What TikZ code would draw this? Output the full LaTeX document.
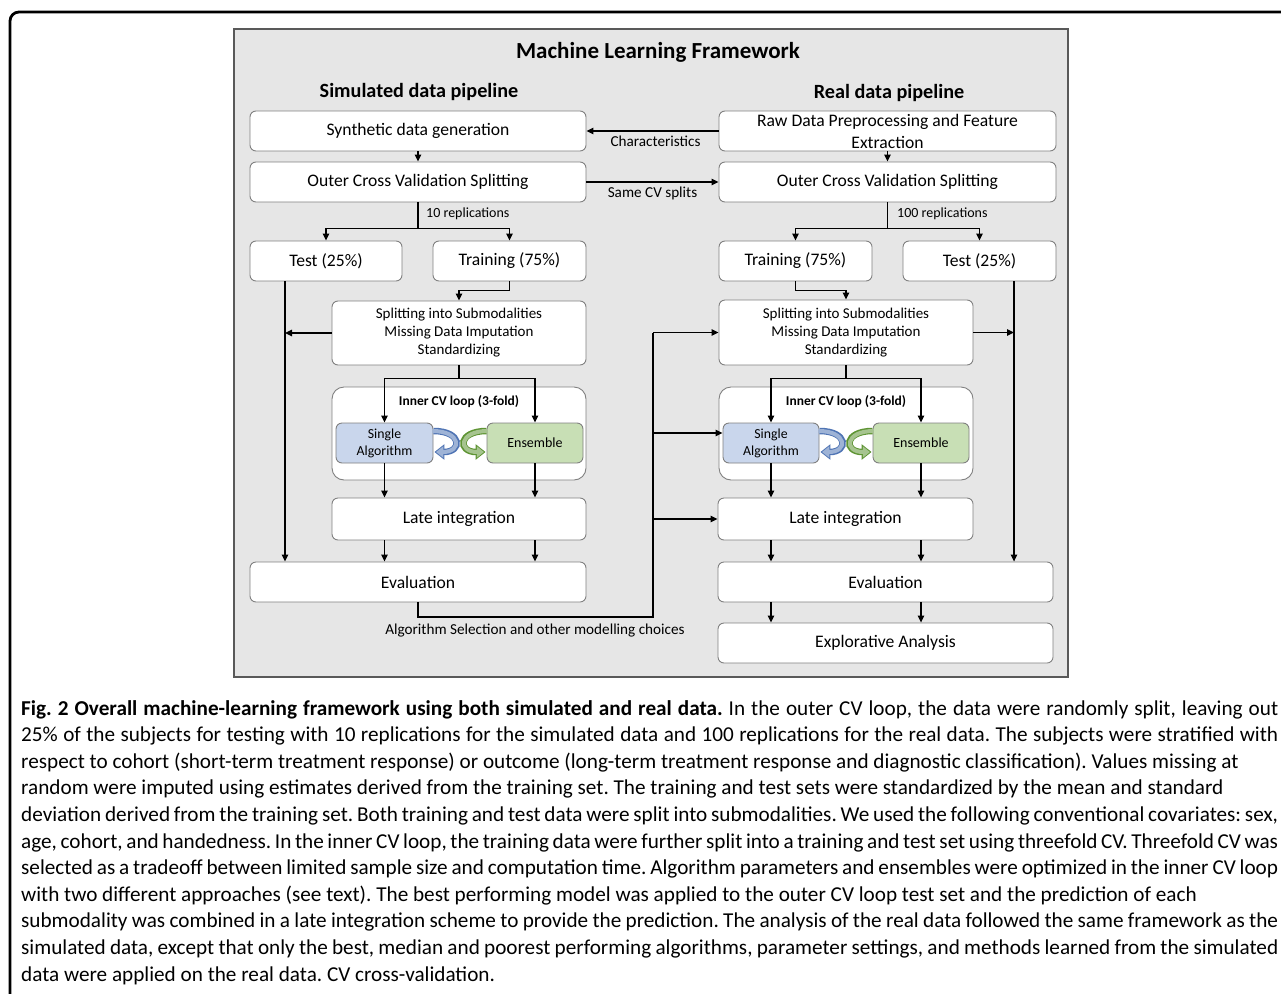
\documentclass[tikz,border=0pt]{standalone}
\usepackage{fontspec}
\setmainfont{Carlito}
\usetikzlibrary{arrows.meta,calc}
\frenchspacing
\definecolor{panel}{HTML}{E6E6E6}
\definecolor{panelline}{HTML}{595959}
\definecolor{boxline}{HTML}{808080}
\definecolor{sabg}{HTML}{C9D6EC}
\definecolor{ensbg}{HTML}{C8DFB5}
\definecolor{loopblue}{HTML}{7A9BD3}
\definecolor{loopbluedk}{HTML}{4F74B4}
\definecolor{loopgreen}{HTML}{86B957}
\definecolor{loopgreendk}{HTML}{5E9433}
\tikzset{
  box/.style={draw=boxline, fill=white, rounded corners=6pt, line width=0.9pt, inner sep=0pt, align=center, font=\fontsize{17.6}{21}\selectfont},
  smallbox/.style={font=\fontsize{15}{18}\selectfont},
  ln/.style={line width=1.3pt, black},
  arr/.style={ln, -{Triangle[length=7pt,width=6.5pt]}},
  lbl/.style={font=\fontsize{15.2}{17}\selectfont, inner sep=0pt},
  replbl/.style={font=\fontsize{14}{16}\selectfont, inner sep=0pt},
  loopout/.style={line width=6.5pt, draw=#1, -{Triangle[length=10pt,width=15pt]}},
  loopin/.style={line width=4pt, draw=#1, shorten >=1.6pt, -{Triangle[length=7.2pt,width=11pt]}},
  capfnt/.style={anchor=base west, inner sep=0pt, font=\fontsize{21.2}{25}\selectfont},
}
\newcommand\bx[7][]{\node[box,#1,minimum width={(#5-#3)*1pt},minimum height={(#6-#4)*1pt}] (#2) at ({(#3+#5)/2},{(#4+#6)/2}) {#7};}
\newcommand\capj[3]{\node[capfnt] (cap#1) at (21,{715+26.6*(#1-1)}) {\hbox to #2pt{#3}};}
\newcommand\capn[2]{\node[capfnt] (cap#1) at (21,{715+26.6*(#1-1)}) {#2};}
\newcommand\ribbonR[2]{%
  \draw[loopout=#2] ([yshift=12pt]#1.east) .. controls +(29,0) and +(28,0) .. ([yshift=-9pt,xshift=1pt]#1.east);
  \draw[loopin=#2!55!white] ([yshift=12pt,xshift=-1pt]#1.east) .. controls +(29,0) and +(28,0) .. ([yshift=-9pt,xshift=1pt]#1.east);}
\newcommand\ribbonL[2]{%
  \draw[loopout=#2] ([yshift=12pt]#1.west) .. controls +(-29,0) and +(-28,0) .. ([yshift=-9pt,xshift=-1pt]#1.west);
  \draw[loopin=#2!55!white] ([yshift=12pt,xshift=1pt]#1.west) .. controls +(-29,0) and +(-28,0) .. ([yshift=-9pt,xshift=-1pt]#1.west);}
\begin{document}
\begin{tikzpicture}[x=1pt,y=-1pt]
\useasboundingbox (0,0) rectangle (1281,993);
\fill[white] (0,0) rectangle (1281,993);
% outer frame
\draw[line width=2.8pt, rounded corners=9pt] (1290,12) -- (10,12) -- (10,1000);
% panel
\draw[draw=panelline, fill=panel, line width=1.3pt] (234,29) rectangle (1068,677);
\node[font=\bfseries\fontsize{23}{27}\selectfont] (title) at (658,52) {Machine Learning Framework};
\node[font=\bfseries\fontsize{20.2}{24}\selectfont] (simt) at (419,92) {Simulated data pipeline};
\node[font=\bfseries\fontsize{20.2}{24}\selectfont] (realt) at (889,93) {Real data pipeline};
% left column
\bx{synL}{250}{111}{586}{151}{Synthetic data generation}
\bx{ocvL}{250}{162}{586}{202}{Outer Cross Validation Splitting}
\bx{testL}{250}{241}{402}{281}{Test (25\%)}
\bx{trainL}{433}{241}{586}{281}{Training (75\%)}
\bx[smallbox]{splitL}{332}{301}{586}{365}{Splitting into Submodalities\\Missing Data Imputation\\Standardizing}
\bx[rounded corners=12pt]{innerL}{332}{387}{586}{480}{}
\node[font=\bfseries\fontsize{13.5}{16}\selectfont] (innerLt) at (459,402) {Inner CV loop (3-fold)};
\bx[fill=sabg, font=\fontsize{13.8}{17}\selectfont]{singleL}{336}{423}{433}{463}{Single\\Algorithm}
\bx[fill=ensbg, font=\fontsize{14}{17}\selectfont]{ensL}{487}{423}{583}{463}{Ensemble}
\bx{lateL}{332}{498}{586}{540}{Late integration}
\bx{evalL}{250}{562}{586}{602}{Evaluation}
% right column
\bx[font=\fontsize{17.6}{22}\selectfont]{rawR}{719}{111}{1056}{151}{Raw Data Preprocessing and Feature\\Extraction}
\bx{ocvR}{719}{162}{1056}{202}{Outer Cross Validation Splitting}
\bx{trainR}{719}{241}{872}{281}{Training (75\%)}
\bx{testR}{903}{241}{1056}{281}{Test (25\%)}
\bx[smallbox]{splitR}{719}{300}{973}{365}{Splitting into Submodalities\\Missing Data Imputation\\Standardizing}
\bx[rounded corners=12pt]{innerR}{719}{387}{973}{480}{}
\node[font=\bfseries\fontsize{13.5}{16}\selectfont] (innerRt) at (846,402) {Inner CV loop (3-fold)};
\bx[fill=sabg, font=\fontsize{13.8}{17}\selectfont]{singleR}{723}{423}{819}{463}{Single\\Algorithm}
\bx[fill=ensbg, font=\fontsize{14}{17}\selectfont]{ensR}{873}{423}{969}{463}{Ensemble}
\bx{lateR}{718}{498}{973}{540}{Late integration}
\bx{evalR}{718}{562}{1053}{602}{Evaluation}
\bx{explR}{718}{623}{1053}{663}{Explorative Analysis}
% helper coordinates
\coordinate (xL) at (285,0);
\coordinate (xR) at (1014,0);
\coordinate (fb) at (653,617);
\coordinate (sRin) at ([yshift=10pt]singleR.west);
% left connectors
\draw[arr] (synL.south) -- (ocvL.north);
\draw[arr] (ocvL.south) -- ++(0,26) -| (testL.north);
\draw[arr] (ocvL.south) -- ++(0,26) -| (trainL.north);
\node[replbl, anchor=west] (rep10) at (426,214) {10 replications};
\draw[arr] (trainL.south) -- ++(0,9) -| (splitL.north);
\draw[arr] (xL |- testL.south) -- (xL |- evalL.north);
\draw[arr] (splitL.west) -- (xL |- splitL.west);
\draw[arr] (splitL.south) -- ++(0,13) -| (singleL.north);
\draw[arr] (splitL.south) -- ++(0,13) -| (ensL.north);
\draw[arr] (singleL.south) -- (singleL.south |- lateL.north);
\draw[arr] (ensL.south) -- (ensL.south |- lateL.north);
\draw[arr] (lateL.south -| singleL.south) -- (evalL.north -| singleL.south);
\draw[arr] (lateL.south -| ensL.south) -- (evalL.north -| ensL.south);
% cross connectors
\draw[arr] (rawR.west) -- (synL.east) node[lbl, midway, below=4pt, xshift=3pt] (charl) {Characteristics};
\draw[arr] (ocvL.east) -- (ocvR.west) node[lbl, midway, below=4pt] (samel) {Same CV splits};
\draw[ln] (evalL.south) |- (fb) -- (fb |- splitR.west);
\draw[arr] (fb |- splitR.west) -- (splitR.west);
\draw[arr] (fb |- sRin) -- (sRin);
\draw[arr] (fb |- lateR.west) -- (lateR.west);
\node[lbl] (algsel) at (535,631) {Algorithm Selection and other modelling choices};
% right connectors
\draw[arr] (rawR.south) -- (ocvR.north);
\draw[arr] (ocvR.south) -- ++(0,26) -| (trainR.north);
\draw[arr] (ocvR.south) -- ++(0,26) -| (testR.north);
\node[replbl, anchor=west] (rep100) at (897,214) {100 replications};
\draw[arr] (trainR.south) -- ++(0,9) -| (splitR.north);
\draw[arr] (xR |- testR.south) -- (xR |- evalR.north);
\draw[arr] (splitR.east) -- (xR |- splitR.east);
\draw[arr] (splitR.south) -- ++(0,13) -| (singleR.north);
\draw[arr] (splitR.south) -- ++(0,13) -| (ensR.north);
\draw[arr] (singleR.south) -- (singleR.south |- lateR.north);
\draw[arr] (ensR.south) -- (ensR.south |- lateR.north);
\draw[arr] (lateR.south -| singleR.south) -- (evalR.north -| singleR.south);
\draw[arr] (lateR.south -| ensR.south) -- (evalR.north -| ensR.south);
\draw[arr] (evalR.south -| singleR.south) -- (explR.north -| singleR.south);
\draw[arr] (evalR.south -| ensR.south) -- (explR.north -| ensR.south);
% loop arrows
\ribbonR{singleL}{loopbluedk}
\ribbonL{ensL}{loopgreendk}
\ribbonR{singleR}{loopbluedk}
\ribbonL{ensR}{loopgreendk}
% caption
\capj{1}{1257}{\textbf{Fig. 2 Overall machine-learning framework using both simulated and real data.} In the outer CV loop, the data were randomly split, leaving out}
\capj{2}{1257}{25\% of the subjects for testing with 10 replications for the simulated data and 100 replications for the real data. The subjects were stratified with}
\capn{3}{respect to cohort (short-term treatment response) or outcome (long-term treatment response and diagnostic classification). Values missing at}
\capn{4}{random were imputed using estimates derived from the training set. The training and test sets were standardized by the mean and standard}
\capj{5}{1257}{deviation derived from the training set. Both training and test data were split into submodalities. We used the following conventional covariates: sex,}
\capj{6}{1257}{age, cohort, and handedness. In the inner CV loop, the training data were further split into a training and test set using threefold CV. Threefold CV was}
\capj{7}{1257}{selected as a tradeoff between limited sample size and computation time. Algorithm parameters and ensembles were optimized in the inner CV loop}
\capn{8}{with two different approaches (see text). The best performing model was applied to the outer CV loop test set and the prediction of each}
\capj{9}{1257}{submodality was combined in a late integration scheme to provide the prediction. The analysis of the real data followed the same framework as the}
\capj{10}{1257}{simulated data, except that only the best, median and poorest performing algorithms, parameter settings, and methods learned from the simulated}
\capn{11}{data were applied on the real data. CV cross-validation.}
\end{tikzpicture}
\end{document}
